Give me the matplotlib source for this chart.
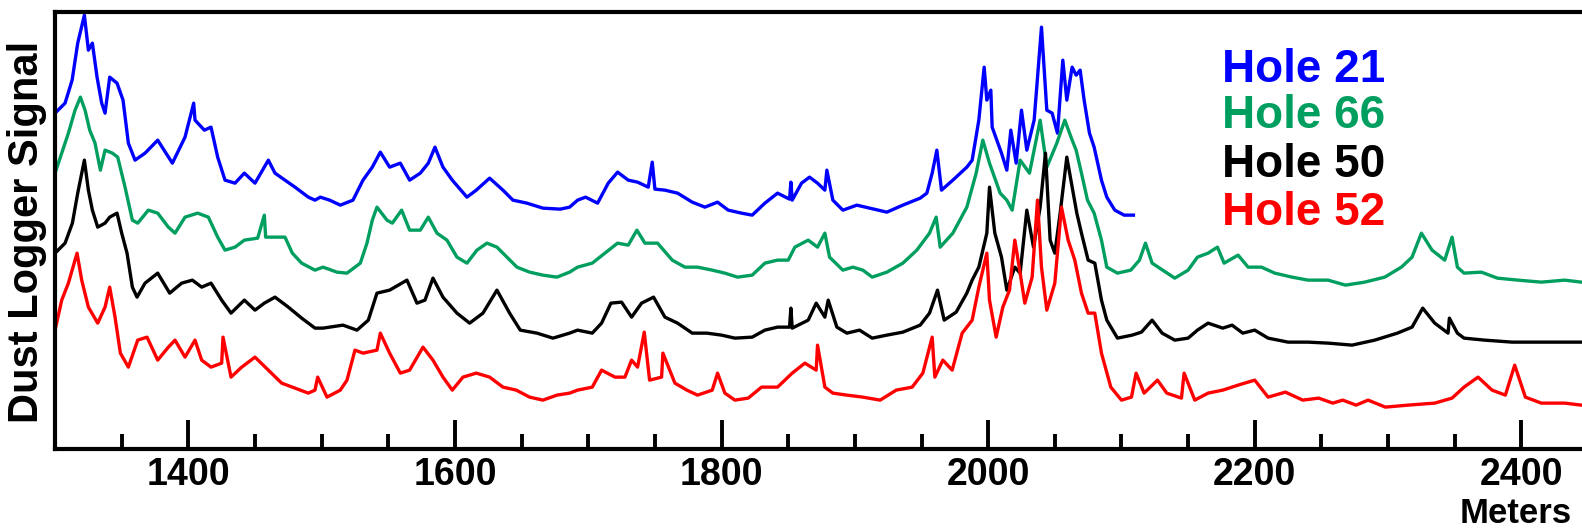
import matplotlib.pyplot as plt
import matplotlib.ticker as ticker

# depth in meters and dust logger signal (arbitrary units, traces offset)
hole21_depth = [1300, 1307.5, 1312.8, 1317, 1322, 1325, 1328, 1331.5, 1335, 1337.5, 1341, 1346.5, 1351, 1355,
                1360, 1367.5, 1377, 1388, 1397.5, 1404, 1405, 1412, 1417, 1422, 1427.5, 1435, 1442, 1450, 1460,
                1465, 1472.5, 1480, 1490, 1495, 1499, 1506, 1514, 1523.5, 1531, 1538, 1544, 1551, 1559, 1566,
                1574, 1580, 1585, 1591, 1598, 1609, 1616, 1626, 1636, 1643.5, 1654, 1666, 1679, 1686, 1692,
                1698, 1707, 1715, 1722, 1730, 1737, 1745, 1748, 1750, 1757.5, 1767, 1778, 1787.5, 1797, 1805,
                1815, 1823, 1832.5, 1842, 1851, 1852, 1853, 1860, 1866, 1872, 1877.5, 1879, 1883.5, 1891,
                1901.5, 1911, 1924, 1936, 1949, 1954, 1958, 1961.5, 1965, 1973.5, 1984, 1988, 1993, 1997,
                1999, 2002, 2003, 2010, 2014, 2017, 2021, 2025, 2029, 2034.5, 2040, 2044, 2048, 2052, 2056,
                2059, 2063, 2066, 2069, 2072, 2076, 2079.5, 2085, 2089, 2095, 2102, 2109]
hole21_signal = [336, 346, 369, 406, 434, 399, 406, 372, 346, 336, 372, 366, 349, 306,
                 289, 296, 309, 286, 312, 346, 329, 319, 322, 292, 269, 266, 276, 266, 289,
                 276, 269, 262, 252, 249, 252, 249, 244, 249, 269, 282, 297, 282, 286, 269,
                 276, 286, 302, 282, 269, 252, 259, 271, 259, 249, 246, 241, 240, 242, 249,
                 252, 246, 266, 277, 269, 267, 262, 287, 260, 259, 256, 247, 242, 247, 239,
                 236, 234, 246, 256, 250, 267, 249, 266, 272, 266, 259, 279, 249, 239,
                 244, 241, 237, 244, 251, 256, 276, 299, 259, 269, 282, 289, 329, 382,
                 349, 359, 322, 296, 279, 319, 286, 339, 299, 329, 422, 339, 336, 316, 389,
                 349, 382, 374, 379, 349, 316, 302, 269, 252, 239, 234, 234]

hole66_depth = [1300, 1305, 1310, 1315, 1319, 1322.5, 1326, 1330, 1334, 1337.5, 1343, 1347, 1352.5, 1358,
                1362, 1370, 1377, 1385, 1390, 1397.5, 1407, 1415, 1422, 1427.5, 1435, 1442, 1452, 1457,
                1458, 1463, 1472.5, 1478, 1485, 1495, 1501, 1511.5, 1519, 1529, 1534, 1538, 1541.5, 1549,
                1553, 1560, 1566, 1574, 1580, 1586.5, 1594, 1601.5, 1609, 1616.5, 1624, 1631.5, 1639,
                1646.5, 1656, 1666, 1676.5, 1686, 1692, 1703, 1712.5, 1722, 1730, 1736.5, 1742.5, 1752,
                1763, 1772.5, 1782, 1793, 1802.5, 1812, 1823, 1832.5, 1842, 1850, 1855, 1865, 1872, 1877.5,
                1881, 1891, 1898.5, 1906, 1913, 1924, 1936, 1946.5, 1956, 1961, 1964, 1973.5, 1984, 1991,
                1996, 2001, 2009, 2014, 2018, 2024, 2031, 2039, 2044, 2051.5, 2057.5, 2063, 2066, 2070,
                2074.5, 2079.5, 2085, 2089, 2097, 2107, 2113.5, 2118, 2123, 2131, 2140, 2150, 2157, 2165,
                2172, 2177, 2187.5, 2195, 2205, 2215, 2228, 2240, 2255, 2268, 2282.5, 2297.5, 2310, 2318,
                2325, 2333, 2342.5, 2348, 2352, 2357, 2370, 2382, 2397.5, 2415, 2432.5, 2445]
hole66_signal = [276, 296, 316, 339, 352, 339, 319, 306, 279, 299, 296, 292, 262, 229,
                 226, 239, 236, 222, 216, 232, 236, 232, 212, 199, 202, 209, 211, 234,
                 212, 212, 212, 196, 186, 179, 182, 177, 176, 186, 206, 229, 242, 229,
                 226, 239, 219, 219, 232, 216, 209, 192, 186, 199, 206, 202, 192,
                 182, 177, 174, 172, 177, 182, 186, 196, 206, 204, 219, 206, 206,
                 189, 182, 182, 179, 176, 172, 174, 186, 189, 189, 202, 209, 202, 216,
                 192, 179, 182, 179, 172, 177, 186, 199, 216, 232, 202, 216, 242, 276,
                 309, 286, 256, 249, 239, 289, 276, 329, 282, 306, 329, 309, 299, 276,
                 249, 236, 209, 182, 176, 179, 189, 206, 186, 179, 171, 179, 192, 196,
                 202, 186, 194, 182, 182, 176, 172, 169, 169, 164, 167, 172, 182, 192,
                 216, 199, 189, 212, 182, 176, 177, 171, 169, 167, 169, 167]

hole50_depth = [1300, 1307.5, 1313, 1317, 1322, 1325, 1328, 1332, 1337.5, 1341, 1346.5, 1350, 1354, 1358,
                1361.5, 1367.5, 1377, 1386, 1395, 1403, 1410, 1417, 1425, 1432, 1442, 1450, 1457, 1465,
                1475, 1485, 1495, 1501, 1516, 1526.5, 1535, 1541.5, 1551, 1564, 1571.5, 1577.5, 1583.5,
                1591, 1601.5, 1611, 1621, 1631.5, 1641, 1649, 1661.5, 1673.5, 1686, 1692, 1703, 1710,
                1717, 1725, 1732.5, 1740, 1749, 1757.5, 1767, 1778, 1789, 1800, 1810, 1823, 1832.5, 1842,
                1851, 1852, 1853, 1865, 1871, 1877.5, 1880, 1886.5, 1894, 1903.5, 1913, 1924, 1936, 1949,
                1956, 1962, 1967, 1976, 1984, 1988, 1993, 1999, 2001, 2005, 2010, 2014, 2020, 2024, 2029,
                2034, 2039, 2043, 2046.5, 2050, 2054, 2059, 2063, 2066.5, 2070, 2075, 2080, 2085, 2089,
                2097, 2108, 2115, 2123, 2130.5, 2140, 2150, 2157, 2165, 2176, 2183, 2191, 2200, 2210,
                2225, 2240, 2255, 2273, 2290, 2307, 2318, 2326, 2335, 2345, 2346, 2352, 2357, 2372.5,
                2393, 2415, 2445]
hole50_signal = [196, 206, 226, 256, 289, 259, 239, 222, 226, 232, 236, 216, 196, 162,
                 152, 166, 176, 156, 166, 169, 162, 166, 149, 136, 149, 139, 146, 152,
                 142, 131, 121, 121, 124, 119, 129, 156, 159, 169, 146, 149, 171,
                 152, 136, 126, 136, 159, 136, 119, 116, 111, 116, 119, 116, 126,
                 146, 147, 132, 146, 152, 132, 126, 116, 116, 114, 111, 112, 119, 122,
                 122, 141, 121, 129, 146, 132, 149, 122, 116, 119, 111, 114, 117, 124,
                 136, 159, 129, 137, 156, 169, 182, 216, 262, 216, 192, 159, 182, 176, 239,
                 202, 242, 296, 209, 196, 236, 292, 262, 236, 216, 189, 186, 149, 129,
                 111, 114, 117, 129, 116, 109, 111, 119, 126, 121, 124, 116, 119, 111,
                 107, 107, 106, 104, 109, 116, 122, 141, 126, 116, 131, 116, 111, 109,
                 107, 107, 107]

hole52_depth = [1300, 1305, 1310, 1316.5, 1320, 1325, 1332, 1337.5, 1341, 1345, 1349, 1355, 1362, 1369,
                1377, 1385, 1390, 1397.5, 1405, 1410, 1417, 1425, 1426, 1432, 1440, 1450, 1460, 1470,
                1480, 1490, 1495, 1497, 1504, 1514, 1519, 1525, 1531, 1541.5, 1544, 1551, 1559, 1566,
                1576, 1583.5, 1591, 1598, 1606, 1616, 1626, 1636, 1646, 1656, 1666, 1676.5, 1686, 1692,
                1703, 1710, 1720, 1727.5, 1732.5, 1737, 1742, 1746, 1755, 1756, 1765, 1774, 1782, 1793,
                1797, 1802.5, 1810, 1820, 1830, 1842, 1853, 1862.5, 1871, 1872, 1877.5, 1883.5, 1894,
                1906, 1919, 1931, 1943, 1951, 1958, 1960, 1966, 1973, 1980.5, 1988, 1993, 1999, 2001,
                2006, 2011, 2016, 2020, 2024, 2027.5, 2033, 2037, 2040, 2044, 2050, 2055, 2060, 2065,
                2070, 2075, 2080, 2085, 2092, 2100, 2107.5, 2111, 2117, 2127, 2134, 2145, 2147, 2155,
                2165, 2176, 2187.5, 2200, 2210, 2223, 2236, 2248, 2258.5, 2266, 2276, 2285, 2298, 2315,
                2335, 2348, 2357, 2367.5, 2378, 2388, 2395, 2403, 2415, 2432.5, 2445]
hole52_signal = [119, 149, 166, 196, 169, 142, 126, 142, 162, 132, 96, 82, 109, 112,
                 89, 102, 109, 92, 109, 89, 82, 86, 112, 72, 82, 92, 79, 66,
                 61, 56, 59, 72, 52, 59, 69, 99, 96, 99, 116, 96, 76, 79,
                 102, 89, 72, 59, 72, 76, 72, 62, 59, 52, 49, 54, 56, 59,
                 62, 79, 72, 72, 89, 82, 117, 69, 72, 96, 66, 59, 54, 59,
                 76, 56, 49, 51, 62, 62, 76, 86, 79, 104, 62, 56, 54,
                 52, 49, 59, 62, 76, 112, 72, 89, 79, 116, 129, 162, 196, 149,
                 112, 142, 159, 209, 176, 146, 172, 249, 182, 139, 166, 242, 209, 189,
                 156, 136, 136, 96, 62, 49, 52, 76, 56, 69, 56, 51, 76, 49,
                 56, 59, 64, 69, 52, 57, 49, 51, 46, 49, 44, 49, 42, 44,
                 46, 51, 62, 72, 59, 54, 84, 52, 46, 46, 44]

legend_labels = ["Hole 21", "Hole 66", "Hole 50", "Hole 52"]
colors = ["#0000FF", "#009E5F", "#000000", "#FF0000"]

plt.rcParams['font.family'] = ['Liberation Sans', 'DejaVu Sans']

fig = plt.figure(figsize=(15.82, 5.29), dpi=100)
ax = fig.add_axes([0.0348, 0.151, 0.969, 0.826])

# draw the four traces
series = [(hole21_depth, hole21_signal), (hole66_depth, hole66_signal),
          (hole50_depth, hole50_signal), (hole52_depth, hole52_signal)]
for (depth, signal), color in zip(series, colors):
    ax.plot(depth, signal, color=color, linewidth=2.4, solid_joinstyle='round')

ax.set_xlim(1300, 2450)
ax.set_ylim(0, 437)
ax.set_yticks([])

# ticks inside, major every 200 m and minor every 50 m
ax.xaxis.set_major_locator(ticker.MultipleLocator(200))
ax.xaxis.set_minor_locator(ticker.MultipleLocator(50))
ax.tick_params(axis='x', which='major', direction='in', length=21, width=2.8,
               labelsize=27, pad=6)
ax.tick_params(axis='x', which='minor', direction='in', length=11, width=2.8)
for label in ax.get_xticklabels():
    label.set_fontweight('bold')

for side in ['left', 'top', 'bottom', 'right']:
    ax.spines[side].set_linewidth(3)

fig.text(27 / 1582, 0.561, "Dust Logger Signal", rotation=90, ha='center', va='center',
         fontsize=30, fontweight='bold')
fig.text(1460 / 1582, 6 / 529, "Meters", ha='left', va='baseline',
         fontsize=25, fontweight='bold')

# coloured labels in place of a legend
baselines = [82, 128, 177, 225]
for label, color, base in zip(legend_labels, colors, baselines):
    fig.text(1222 / 1582, 1 - base / 529, label, color=color, ha='left', va='baseline',
             fontsize=33, fontweight='bold')

fig.savefig("out.png", dpi=100)
